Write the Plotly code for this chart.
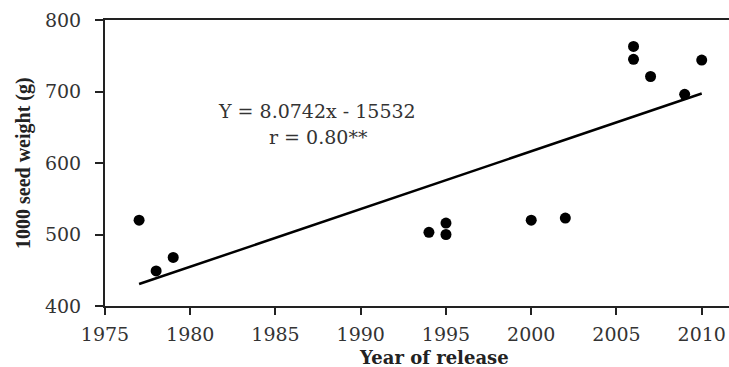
import plotly.graph_objects as go

# Data
release_year = [1977, 1978, 1979, 1994, 1995, 1995, 2000, 2002, 2006, 2006, 2007, 2009, 2010]
seed_weight = [520, 449, 468, 503, 516, 500, 520, 523, 763, 745, 721, 696, 744]

# Regression reported on the chart: Y = 8.0742x - 15532
slope = 8.0742
intercept = -15532
fit_years = [1977, 2010]
fit_values = [slope * x + intercept for x in fit_years]

x_ticks = [1975, 1980, 1985, 1990, 1995, 2000, 2005, 2010]
y_ticks = [400, 500, 600, 700, 800]

eq_text = "Y = 8.0742x - 15532"
r_text = "r = 0.80**"

fig = go.Figure()
fig.add_trace(go.Scatter(
    x=fit_years, y=fit_values, mode="lines",
    line=dict(color="black", width=2.5), showlegend=False, hoverinfo="skip"))
fig.add_trace(go.Scatter(
    x=release_year, y=seed_weight, mode="markers",
    marker=dict(color="black", size=11, symbol="circle"), showlegend=False))

tick_font = dict(family="DejaVu Serif", size=19, color="#333")
fig.update_layout(
    width=729, height=367,
    margin=dict(l=105, r=0, t=20, b=61),
    paper_bgcolor="white", plot_bgcolor="white",
    xaxis=dict(range=[1975, 2011.6], tickvals=x_ticks, showgrid=False, zeroline=False,
               showline=True, linecolor="#222", linewidth=2, mirror=True,
               ticks="outside", ticklen=7, tickwidth=1.5, tickcolor="#222",
               tickfont=tick_font, ticklabelstandoff=3),
    yaxis=dict(range=[400, 800], tickvals=y_ticks, showgrid=False, zeroline=False,
               showline=True, linecolor="#222", linewidth=2,
               ticks="outside", ticklen=8, tickwidth=1.5, tickcolor="#222",
               tickfont=tick_font, ticklabelstandoff=10),
    annotations=[
        dict(text=eq_text, xref="x", yref="y", x=1987.45, y=654.5, showarrow=False,
             font=dict(family="DejaVu Serif", size=19, color="#333"), xanchor="center", yanchor="bottom"),
        dict(text=r_text, xref="x", yref="y", x=1987.5, y=654.5, showarrow=False,
             font=dict(family="DejaVu Serif", size=19, color="#333"), xanchor="center", yanchor="top"),
        dict(text="<b>Year of release</b>", xref="paper", yref="paper",
             x=(434 - 105) / 624, y=(306 - 357) / 286, showarrow=False,
             font=dict(family="DejaVu Serif", size=18, color="#222"), xanchor="center", yanchor="middle"),
        dict(text="<b>1000 seed weight (g)</b>", xref="paper", yref="paper",
             x=(23 - 105) / 624, y=0.5, showarrow=False, textangle=-90,
             font=dict(family="Liberation Serif", size=20, color="#222"), xanchor="center", yanchor="middle"),
    ],
)

fig.write_html("out.html", config={"displayModeBar": False},
               post_script="document.body.style.margin='0px';")
